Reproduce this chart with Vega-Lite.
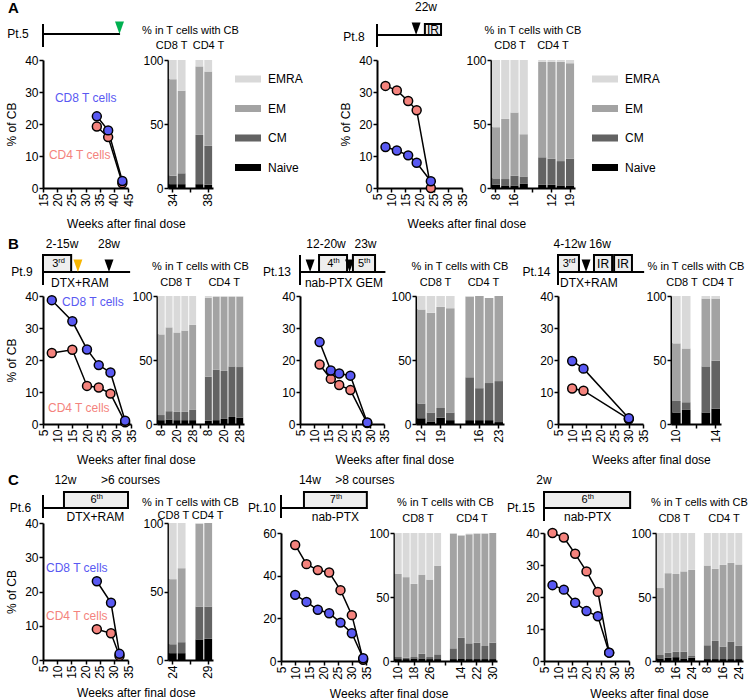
{
"$schema":"https://vega.github.io/schema/vega-lite/v6.json",
"background":"white",
"padding":{"left":5,"top":0,"right":0,"bottom":0},
"spacing":6,
"resolve":{"scale":{"color":"independent","fill":"independent"},"legend":{"color":"independent","fill":"independent"}},
"config":{
 "font":"Liberation Sans",
 "view":{"stroke":null},
 "axis":{"grid":false,"domainColor":"#000","domainWidth":2,"tickColor":"#000","tickWidth":1.5,"tickSize":4,"labelColor":"#000","labelFontSize":12,"labelPadding":1,"titleColor":"#000","titleFontSize":12,"titleFontWeight":"normal","titlePadding":6,"labelFlush":false,"labelOverlap":false},
 "axisX":{"labelAngle":-90},
 "title":{"fontSize":12,"fontWeight":"normal","color":"#000"},
 "text":{"color":"#000"}
},
"vconcat":[
{"hconcat":[
 {"concat":[
  {"width":85,"height":52,
   "encoding":{"x":{"field":"x","type":"quantitative","scale":{"domain":[15,45],"nice":false,"zero":false},"axis":null},"y":{"field":"y","type":"quantitative","scale":{"domain":[0,52],"nice":false,"reverse":true},"axis":null}},
   "layer":[
    {"data":{"values":[{"x":15,"y":24,"y2":47}]},"mark":{"type":"rule","strokeWidth":2,"color":"#000"},"encoding":{"y2":{"field":"y2"}}},
    {"data":{"values":[{"x":15,"x2":42.2,"y":34}]},"mark":{"type":"rule","strokeWidth":2,"color":"#000"},"encoding":{"x2":{"field":"x2"}}},
    {"data":{"values":[{"x":42,"y":27.7,"k":"c"}]},"mark":{"type":"point","shape":"M-1,-1.4L1,-1.4L0,1.4Z","size":80,"filled":true,"opacity":1},"encoding":{"fill":{"field":"k","type":"nominal","scale":{"domain":["a","b","c"],"range":["#000000","#f7b500","#00b050"]},"legend":null}}},
    {"data":{"values":[{"x":6.18,"y":34,"t":"Pt.5"}]},"mark":{"type":"text","fontSize":12,"baseline":"middle","align":"center"},"encoding":{"text":{"field":"t"}}},
    {"data":{"values":[{"x":2.65,"y":7.5,"t":"A"}]},"mark":{"type":"text","fontSize":15,"fontWeight":"bold","baseline":"middle","align":"left"},"encoding":{"text":{"field":"t"}}}
   ]},
  {"width":45,"height":52,"data":{"values":[{"x":2.5,"y":31,"t":"% in T cells with CB"},{"x":0.4,"y":46,"t":"CD8 T"},{"x":4.5,"y":46,"t":"CD4 T"}]},"mark":{"type":"text","fontSize":11,"baseline":"middle"},"encoding":{"x":{"field":"x","type":"quantitative","scale":{"domain":[0,5],"nice":false,"zero":false},"axis":null},"y":{"field":"y","type":"quantitative","scale":{"domain":[0,52],"nice":false,"reverse":true},"axis":null},"text":{"field":"t"}}},
  {"width":85,"height":128,
   "data":{"values":[{"w":34,"v":19.2,"s":"CD4"},{"w":38,"v":15.9,"s":"CD4"},{"w":43,"v":1.5,"s":"CD4"},{"w":34,"v":22.4,"s":"CD8"},{"w":38,"v":18,"s":"CD8"},{"w":43,"v":2.2,"s":"CD8"}]},
   "encoding":{"x":{"field":"w","type":"quantitative","scale":{"domain":[15,45],"nice":false,"zero":false},"axis":{"values":[15,20,25,30,35,40,45],"title":null}},"y":{"field":"v","type":"quantitative","scale":{"domain":[0,40],"nice":false},"axis":{"values":[0,10,20,30,40],"title":"% of CB"}}},
   "layer":[
    {"mark":{"type":"line","color":"#000","strokeWidth":1.5},"encoding":{"detail":{"field":"s"}}},
    {"mark":{"type":"circle","size":80,"stroke":"#000","strokeWidth":1.5,"opacity":1},"encoding":{"fill":{"field":"s","type":"nominal","scale":{"domain":["CD4","CD8"],"range":["#f4837d","#5959f2"]},"legend":null}}},
    {"data":{"values":[{"w":19.2,"v":28.1,"s":"CD8","t":"CD8 T cells"},{"w":17.1,"v":10.3,"s":"CD4","t":"CD4 T cells"}]},"mark":{"type":"text","align":"left","baseline":"middle","fontSize":12},"encoding":{"text":{"field":"t"},"fill":{"field":"s","type":"nominal","scale":{"domain":["CD4","CD8"],"range":["#f4837d","#5959f2"]},"legend":null}}}
   ]},
  {"width":45,"height":128,
   "data":{"values":[
    {"s":"c1","k":"Naive","v":3,"o":1},{"s":"c1","k":"CM","v":6.5,"o":2},{"s":"c1","k":"EM","v":75.5,"o":3},{"s":"c1","k":"EMRA","v":15,"o":4},
    {"s":"c2","k":"Naive","v":3,"o":1},{"s":"c2","k":"CM","v":8.5,"o":2},{"s":"c2","k":"EM","v":64.5,"o":3},{"s":"c2","k":"EMRA","v":24,"o":4},
    {"s":"d1","k":"Naive","v":3,"o":1},{"s":"d1","k":"CM","v":38.5,"o":2},{"s":"d1","k":"EM","v":53.5,"o":3},{"s":"d1","k":"EMRA","v":5,"o":4},
    {"s":"d2","k":"Naive","v":2.5,"o":1},{"s":"d2","k":"CM","v":30.5,"o":2},{"s":"d2","k":"EM","v":58,"o":3},{"s":"d2","k":"EMRA","v":9,"o":4}]},
   "mark":{"type":"bar"},
   "encoding":{
    "x":{"field":"s","type":"nominal","scale":{"domain":["c1","c2","g","d1","d2"],"paddingInner":0.12,"paddingOuter":0.1},"axis":{"values":["c1","g","d2"],"labelExpr":"datum.value=='c1'?'34':datum.value=='d2'?'38':''","title":null}},
    "y":{"field":"v","type":"quantitative","scale":{"domain":[0,100],"nice":false},"axis":{"values":[0,50,100],"title":null}},
    "color":{"field":"k","type":"nominal","scale":{"domain":["EMRA","EM","CM","Naive"],"range":["#d9d9d9","#a3a3a3","#636363","#000000"]},"legend":{"orient":"none","legendX":67,"legendY":6,"title":null,"symbolType":"M-1,-0.27L1,-0.27L1,0.27L-1,0.27Z","symbolSize":676,"symbolStrokeWidth":0,"symbolOpacity":1,"labelFontSize":12,"labelOffset":7,"rowPadding":10.5,"padding":0,"labelColor":"#000"}},
    "order":{"field":"o","type":"quantitative"}}}
 ],"columns":2,"bounds":"flush","align":"each","spacing":{"row":8,"column":40},
 "title":{"text":"Weeks after final dose","orient":"bottom","anchor":"middle","offset":13,"dx":-28,"fontSize":12,"fontWeight":"normal"},
 "resolve":{"scale":{"color":"independent","fill":"independent"},"legend":{"color":"independent","fill":"independent"}}},
 {"concat":[
  {"width":85,"height":52,
   "encoding":{"x":{"field":"x","type":"quantitative","scale":{"domain":[5,35],"nice":false,"zero":false},"axis":null},"y":{"field":"y","type":"quantitative","scale":{"domain":[0,52],"nice":false,"reverse":true},"axis":null}},
   "layer":[
    {"data":{"values":[{"x":5,"y":24,"y2":47}]},"mark":{"type":"rule","strokeWidth":2,"color":"#000"},"encoding":{"y2":{"field":"y2"}}},
    {"data":{"values":[{"x":5,"x2":27.6,"y":35}]},"mark":{"type":"rule","strokeWidth":2,"color":"#000"},"encoding":{"x2":{"field":"x2"}}},
    {"data":{"values":[{"x":21.9,"x2":27.6,"y":24,"y2":35}]},"mark":{"type":"rect","fill":"#eeeeee","stroke":"#000","strokeWidth":2},"encoding":{"x2":{"field":"x2"},"y2":{"field":"y2"}}},
    {"data":{"values":[{"x":18.8,"y":28.7,"k":"a"}]},"mark":{"type":"point","shape":"M-1,-1.4L1,-1.4L0,1.4Z","size":80,"filled":true,"opacity":1},"encoding":{"fill":{"field":"k","type":"nominal","scale":{"domain":["a","b","c"],"range":["#000000","#f7b500","#00b050"]},"legend":null}}},
    {"data":{"values":[{"x":-3.12,"y":37,"t":"Pt.8"},{"x":22.3,"y":7,"t":"22w"},{"x":24.75,"y":30,"t":"IR"}]},"mark":{"type":"text","fontSize":12,"baseline":"middle","align":"center"},"encoding":{"text":{"field":"t"}}}
   ]},
  {"width":84,"height":52,"data":{"values":[{"x":4.5,"y":31,"t":"% in T cells with CB"},{"x":2.04,"y":46,"t":"CD8 T"},{"x":6.64,"y":46,"t":"CD4 T"}]},"mark":{"type":"text","fontSize":11,"baseline":"middle"},"encoding":{"x":{"field":"x","type":"quantitative","scale":{"domain":[0,9],"nice":false,"zero":false},"axis":null},"y":{"field":"y","type":"quantitative","scale":{"domain":[0,52],"nice":false,"reverse":true},"axis":null},"text":{"field":"t"}}},
  {"width":85,"height":128,
   "data":{"values":[{"w":8,"v":31.9,"s":"CD4"},{"w":12,"v":30.5,"s":"CD4"},{"w":16,"v":27.2,"s":"CD4"},{"w":19,"v":24.3,"s":"CD4"},{"w":24,"v":0,"s":"CD4"},{"w":8,"v":12.8,"s":"CD8"},{"w":12,"v":11.7,"s":"CD8"},{"w":16,"v":10.2,"s":"CD8"},{"w":19,"v":7.9,"s":"CD8"},{"w":24,"v":2.1,"s":"CD8"}]},
   "encoding":{"x":{"field":"w","type":"quantitative","scale":{"domain":[5,35],"nice":false,"zero":false},"axis":{"values":[5,10,15,20,25,30,35],"title":null}},"y":{"field":"v","type":"quantitative","scale":{"domain":[0,40],"nice":false},"axis":{"values":[0,10,20,30,40],"title":"% of CB"}}},
   "layer":[
    {"mark":{"type":"line","color":"#000","strokeWidth":1.5},"encoding":{"detail":{"field":"s"}}},
    {"mark":{"type":"circle","size":80,"stroke":"#000","strokeWidth":1.5,"opacity":1},"encoding":{"fill":{"field":"s","type":"nominal","scale":{"domain":["CD4","CD8"],"range":["#f4837d","#5959f2"]},"legend":null}}}
   ]},
  {"width":84,"height":128,
   "data":{"values":[
    {"s":"c1","k":"Naive","v":2.5,"o":1},{"s":"c1","k":"CM","v":5,"o":2},{"s":"c1","k":"EM","v":40,"o":3},{"s":"c1","k":"EMRA","v":52.5,"o":4},
    {"s":"c2","k":"Naive","v":2,"o":1},{"s":"c2","k":"CM","v":5,"o":2},{"s":"c2","k":"EM","v":47,"o":3},{"s":"c2","k":"EMRA","v":46,"o":4},
    {"s":"c3","k":"Naive","v":2,"o":1},{"s":"c3","k":"CM","v":7.5,"o":2},{"s":"c3","k":"EM","v":49.5,"o":3},{"s":"c3","k":"EMRA","v":41,"o":4},
    {"s":"c4","k":"Naive","v":3.5,"o":1},{"s":"c4","k":"CM","v":5.5,"o":2},{"s":"c4","k":"EM","v":33,"o":3},{"s":"c4","k":"EMRA","v":58,"o":4},
    {"s":"d1","k":"Naive","v":2.5,"o":1},{"s":"d1","k":"CM","v":21.5,"o":2},{"s":"d1","k":"EM","v":74.5,"o":3},{"s":"d1","k":"EMRA","v":1.5,"o":4},
    {"s":"d2","k":"Naive","v":2.5,"o":1},{"s":"d2","k":"CM","v":20.5,"o":2},{"s":"d2","k":"EM","v":75.5,"o":3},{"s":"d2","k":"EMRA","v":1.5,"o":4},
    {"s":"d3","k":"Naive","v":2,"o":1},{"s":"d3","k":"CM","v":19,"o":2},{"s":"d3","k":"EM","v":77.5,"o":3},{"s":"d3","k":"EMRA","v":1.5,"o":4},
    {"s":"d4","k":"Naive","v":2,"o":1},{"s":"d4","k":"CM","v":21,"o":2},{"s":"d4","k":"EM","v":74.5,"o":3},{"s":"d4","k":"EMRA","v":2.5,"o":4}]},
   "mark":{"type":"bar"},
   "encoding":{
    "x":{"field":"s","type":"nominal","scale":{"domain":["c1","c2","c3","c4","g","d1","d2","d3","d4"],"paddingInner":0.12,"paddingOuter":0.1},"axis":{"values":["c1","c3","g","d2","d4"],"labelExpr":"datum.value=='c1'?'8':datum.value=='c3'?'16':datum.value=='d2'?'12':datum.value=='d4'?'19':''","title":null}},
    "y":{"field":"v","type":"quantitative","scale":{"domain":[0,100],"nice":false},"axis":{"values":[0,50,100],"title":null}},
    "color":{"field":"k","type":"nominal","scale":{"domain":["EMRA","EM","CM","Naive"],"range":["#d9d9d9","#a3a3a3","#636363","#000000"]},"legend":{"orient":"none","legendX":101,"legendY":6,"title":null,"symbolType":"M-1,-0.27L1,-0.27L1,0.27L-1,0.27Z","symbolSize":676,"symbolStrokeWidth":0,"symbolOpacity":1,"labelFontSize":12,"labelOffset":7,"rowPadding":10.5,"padding":0,"labelColor":"#000"}},
    "order":{"field":"o","type":"quantitative"}}}
 ],"columns":2,"bounds":"flush","align":"each","spacing":{"row":8,"column":29},
 "title":{"text":"Weeks after final dose","orient":"bottom","anchor":"middle","offset":13,"dx":-33,"fontSize":12,"fontWeight":"normal"},
 "resolve":{"scale":{"color":"independent","fill":"independent"},"legend":{"color":"independent","fill":"independent"}}}
],"spacing":36,"resolve":{"scale":{"color":"independent","fill":"independent"},"legend":{"color":"independent","fill":"independent"}}},

{"hconcat":[
 {"concat":[
  {"width":88,"height":53,
   "encoding":{"x":{"field":"x","type":"quantitative","scale":{"domain":[5,35],"nice":false,"zero":false},"axis":null},"y":{"field":"y","type":"quantitative","scale":{"domain":[0,53],"nice":false,"reverse":true},"axis":null}},
   "layer":[
    {"data":{"values":[{"x":5,"y":18,"y2":48}]},"mark":{"type":"rule","strokeWidth":2,"color":"#000"},"encoding":{"y2":{"field":"y2"}}},
    {"data":{"values":[{"x":5,"x2":34.7,"y":35}]},"mark":{"type":"rule","strokeWidth":2,"color":"#000"},"encoding":{"x2":{"field":"x2"}}},
    {"data":{"values":[{"x":5,"x2":14.6,"y":18,"y2":35}]},"mark":{"type":"rect","fill":"#eeeeee","stroke":"#000","strokeWidth":2},"encoding":{"x2":{"field":"x2"},"y2":{"field":"y2"}}},
    {"data":{"values":[{"x":16.9,"y":28.7,"k":"b"},{"x":27.5,"y":28.7,"k":"a"}]},"mark":{"type":"point","shape":"M-1,-1.4L1,-1.4L0,1.4Z","size":80,"filled":true,"opacity":1},"encoding":{"fill":{"field":"k","type":"nominal","scale":{"domain":["a","b","c"],"range":["#000000","#f7b500","#00b050"]},"legend":null}}},
    {"data":{"values":[{"x":-2.16,"y":35,"t":"Pt.9"},{"x":11.5,"y":7,"t":"2-15w"},{"x":27.5,"y":7,"t":"28w"},{"x":17.6,"y":46,"t":"DTX+RAM"}]},"mark":{"type":"text","fontSize":12,"baseline":"middle","align":"center"},"encoding":{"text":{"field":"t"}}},
    {"data":{"values":[{"x":10.2,"y":27,"n":"3","u":"rd"}]},"layer":[
      {"mark":{"type":"text","fontSize":11,"baseline":"middle","align":"right"},"encoding":{"text":{"field":"n"}}},
      {"mark":{"type":"text","fontSize":7.5,"baseline":"middle","align":"left","dy":-3},"encoding":{"text":{"field":"u"}}}]},
    {"data":{"values":[{"x":-6.93,"y":7,"t":"B"}]},"mark":{"type":"text","fontSize":15,"fontWeight":"bold","baseline":"middle","align":"left"},"encoding":{"text":{"field":"t"}}}
   ]},
  {"width":87,"height":53,"data":{"values":[{"x":5.5,"y":30,"t":"% in T cells with CB"},{"x":2.4,"y":46,"t":"CD8 T"},{"x":8.5,"y":46,"t":"CD4 T"}]},"mark":{"type":"text","fontSize":11,"baseline":"middle"},"encoding":{"x":{"field":"x","type":"quantitative","scale":{"domain":[0,11],"nice":false,"zero":false},"axis":null},"y":{"field":"y","type":"quantitative","scale":{"domain":[0,53],"nice":false,"reverse":true},"axis":null},"text":{"field":"t"}}},
  {"width":88,"height":128,
   "data":{"values":[{"w":8,"v":22.2,"s":"CD4"},{"w":15,"v":23.2,"s":"CD4"},{"w":20,"v":11.9,"s":"CD4"},{"w":24,"v":11.4,"s":"CD4"},{"w":28,"v":9.5,"s":"CD4"},{"w":33,"v":0.5,"s":"CD4"},{"w":8,"v":38.7,"s":"CD8"},{"w":15,"v":32.1,"s":"CD8"},{"w":20,"v":23.3,"s":"CD8"},{"w":24,"v":18.4,"s":"CD8"},{"w":28,"v":16.1,"s":"CD8"},{"w":33,"v":1.0,"s":"CD8"}]},
   "encoding":{"x":{"field":"w","type":"quantitative","scale":{"domain":[5,35],"nice":false,"zero":false},"axis":{"values":[5,10,15,20,25,30,35],"title":null}},"y":{"field":"v","type":"quantitative","scale":{"domain":[0,40],"nice":false},"axis":{"values":[0,10,20,30,40],"title":"% of CB"}}},
   "layer":[
    {"mark":{"type":"line","color":"#000","strokeWidth":1.5},"encoding":{"detail":{"field":"s"}}},
    {"mark":{"type":"circle","size":80,"stroke":"#000","strokeWidth":1.5,"opacity":1},"encoding":{"fill":{"field":"s","type":"nominal","scale":{"domain":["CD4","CD8"],"range":["#f4837d","#5959f2"]},"legend":null}}},
    {"data":{"values":[{"w":11.5,"v":38.1,"s":"CD8","t":"CD8 T cells"},{"w":6.7,"v":5.0,"s":"CD4","t":"CD4 T cells"}]},"mark":{"type":"text","align":"left","baseline":"middle","fontSize":12},"encoding":{"text":{"field":"t"},"fill":{"field":"s","type":"nominal","scale":{"domain":["CD4","CD8"],"range":["#f4837d","#5959f2"]},"legend":null}}}
   ]},
  {"width":87,"height":128,
   "data":{"values":[
    {"s":"c1","k":"Naive","v":3,"o":1},{"s":"c1","k":"CM","v":4,"o":2},{"s":"c1","k":"EM","v":63,"o":3},{"s":"c1","k":"EMRA","v":30,"o":4},
    {"s":"c2","k":"Naive","v":3.5,"o":1},{"s":"c2","k":"CM","v":6.5,"o":2},{"s":"c2","k":"EM","v":65.5,"o":3},{"s":"c2","k":"EMRA","v":24.5,"o":4},
    {"s":"c3","k":"Naive","v":3,"o":1},{"s":"c3","k":"CM","v":6.5,"o":2},{"s":"c3","k":"EM","v":62,"o":3},{"s":"c3","k":"EMRA","v":28.5,"o":4},
    {"s":"c4","k":"Naive","v":3,"o":1},{"s":"c4","k":"CM","v":6.5,"o":2},{"s":"c4","k":"EM","v":63.5,"o":3},{"s":"c4","k":"EMRA","v":27,"o":4},
    {"s":"c5","k":"Naive","v":3,"o":1},{"s":"c5","k":"CM","v":8,"o":2},{"s":"c5","k":"EM","v":66.5,"o":3},{"s":"c5","k":"EMRA","v":22.5,"o":4},
    {"s":"d1","k":"Naive","v":2.5,"o":1},{"s":"d1","k":"CM","v":34.5,"o":2},{"s":"d1","k":"EM","v":61.5,"o":3},{"s":"d1","k":"EMRA","v":1.5,"o":4},
    {"s":"d2","k":"Naive","v":3,"o":1},{"s":"d2","k":"CM","v":39.5,"o":2},{"s":"d2","k":"EM","v":57,"o":3},{"s":"d2","k":"EMRA","v":0.5,"o":4},
    {"s":"d3","k":"Naive","v":4,"o":1},{"s":"d3","k":"CM","v":37.5,"o":2},{"s":"d3","k":"EM","v":58,"o":3},{"s":"d3","k":"EMRA","v":0.5,"o":4},
    {"s":"d4","k":"Naive","v":5.5,"o":1},{"s":"d4","k":"CM","v":39.5,"o":2},{"s":"d4","k":"EM","v":54.5,"o":3},{"s":"d4","k":"EMRA","v":0.5,"o":4},
    {"s":"d5","k":"Naive","v":5,"o":1},{"s":"d5","k":"CM","v":39.5,"o":2},{"s":"d5","k":"EM","v":55,"o":3},{"s":"d5","k":"EMRA","v":0.5,"o":4}]},
   "mark":{"type":"bar"},
   "encoding":{
    "x":{"field":"s","type":"nominal","scale":{"domain":["c1","c2","c3","c4","c5","g","d1","d2","d3","d4","d5"],"paddingInner":0.12,"paddingOuter":0.1},"axis":{"values":["c1","c3","c5","g","d1","d3","d5"],"labelExpr":"(datum.value=='c1'||datum.value=='d1')?'8':(datum.value=='c3'||datum.value=='d3')?'20':(datum.value=='c5'||datum.value=='d5')?'28':''","title":null}},
    "y":{"field":"v","type":"quantitative","scale":{"domain":[0,100],"nice":false},"axis":{"values":[0,50,100],"title":null}},
    "color":{"field":"k","type":"nominal","scale":{"domain":["EMRA","EM","CM","Naive"],"range":["#d9d9d9","#a3a3a3","#636363","#000000"]},"legend":null},
    "order":{"field":"o","type":"quantitative"}}}
 ],"columns":2,"bounds":"flush","align":"each","spacing":{"row":6,"column":26},
 "title":{"text":"Weeks after final dose","orient":"bottom","anchor":"middle","offset":13,"dx":9,"fontSize":12,"fontWeight":"normal"},
 "resolve":{"scale":{"color":"independent","fill":"independent"},"legend":{"color":"independent","fill":"independent"}}},
 {"concat":[
  {"width":84,"height":53,
   "encoding":{"x":{"field":"x","type":"quantitative","scale":{"domain":[5,35],"nice":false,"zero":false},"axis":null},"y":{"field":"y","type":"quantitative","scale":{"domain":[0,53],"nice":false,"reverse":true},"axis":null}},
   "layer":[
    {"data":{"values":[{"x":5,"y":18,"y2":48}]},"mark":{"type":"rule","strokeWidth":2,"color":"#000"},"encoding":{"y2":{"field":"y2"}}},
    {"data":{"values":[{"x":5,"x2":35.5,"y":35}]},"mark":{"type":"rule","strokeWidth":2,"color":"#000"},"encoding":{"x2":{"field":"x2"}}},
    {"data":{"values":[{"x":11.8,"x2":21.8,"y":18,"y2":35},{"x":23.9,"x2":31.8,"y":18,"y2":35}]},"mark":{"type":"rect","fill":"#eeeeee","stroke":"#000","strokeWidth":2},"encoding":{"x2":{"field":"x2"},"y2":{"field":"y2"}}},
    {"data":{"values":[{"x":8.6,"y":28.7,"k":"a"},{"x":22.7,"y":28.7,"k":"a"}]},"mark":{"type":"point","shape":"M-1,-1.4L1,-1.4L0,1.4Z","size":80,"filled":true,"opacity":1},"encoding":{"fill":{"field":"k","type":"nominal","scale":{"domain":["a","b","c"],"range":["#000000","#f7b500","#00b050"]},"legend":null}}},
    {"data":{"values":[{"x":-3.21,"y":35,"t":"Pt.13"},{"x":14.3,"y":7,"t":"12-20w"},{"x":28.4,"y":7,"t":"23w"},{"x":15.2,"y":46,"t":"nab-PTX"},{"x":29.8,"y":46,"t":"GEM"}]},"mark":{"type":"text","fontSize":12,"baseline":"middle","align":"center"},"encoding":{"text":{"field":"t"}}},
    {"data":{"values":[{"x":16.9,"y":27,"n":"4","u":"th"},{"x":27.9,"y":27,"n":"5","u":"th"}]},"layer":[
      {"mark":{"type":"text","fontSize":11,"baseline":"middle","align":"right"},"encoding":{"text":{"field":"n"}}},
      {"mark":{"type":"text","fontSize":7.5,"baseline":"middle","align":"left","dy":-3},"encoding":{"text":{"field":"u"}}}]}
   ]},
  {"width":88,"height":53,"data":{"values":[{"x":4.5,"y":30,"t":"% in T cells with CB"},{"x":2.0,"y":46,"t":"CD8 T"},{"x":6.9,"y":46,"t":"CD4 T"}]},"mark":{"type":"text","fontSize":11,"baseline":"middle"},"encoding":{"x":{"field":"x","type":"quantitative","scale":{"domain":[0,9],"nice":false,"zero":false},"axis":null},"y":{"field":"y","type":"quantitative","scale":{"domain":[0,53],"nice":false,"reverse":true},"axis":null},"text":{"field":"t"}}},
  {"width":84,"height":128,
   "data":{"values":[{"w":12,"v":18.6,"s":"CD4"},{"w":16,"v":14.1,"s":"CD4"},{"w":19,"v":12.2,"s":"CD4"},{"w":23,"v":10.6,"s":"CD4"},{"w":29,"v":0.3,"s":"CD4"},{"w":12,"v":25.6,"s":"CD8"},{"w":16,"v":16.7,"s":"CD8"},{"w":19,"v":15.8,"s":"CD8"},{"w":23,"v":15.1,"s":"CD8"},{"w":29,"v":0.5,"s":"CD8"}]},
   "encoding":{"x":{"field":"w","type":"quantitative","scale":{"domain":[5,35],"nice":false,"zero":false},"axis":{"values":[5,10,15,20,25,30,35],"title":null}},"y":{"field":"v","type":"quantitative","scale":{"domain":[0,40],"nice":false},"axis":{"values":[0,10,20,30,40],"title":null}}},
   "layer":[
    {"mark":{"type":"line","color":"#000","strokeWidth":1.5},"encoding":{"detail":{"field":"s"}}},
    {"mark":{"type":"circle","size":80,"stroke":"#000","strokeWidth":1.5,"opacity":1},"encoding":{"fill":{"field":"s","type":"nominal","scale":{"domain":["CD4","CD8"],"range":["#f4837d","#5959f2"]},"legend":null}}}
   ]},
  {"width":88,"height":128,
   "data":{"values":[
    {"s":"c1","k":"Naive","v":4.5,"o":1},{"s":"c1","k":"CM","v":11.5,"o":2},{"s":"c1","k":"EM","v":73.5,"o":3},{"s":"c1","k":"EMRA","v":10.5,"o":4},
    {"s":"c2","k":"Naive","v":2,"o":1},{"s":"c2","k":"CM","v":7,"o":2},{"s":"c2","k":"EM","v":78,"o":3},{"s":"c2","k":"EMRA","v":13,"o":4},
    {"s":"c3","k":"Naive","v":5,"o":1},{"s":"c3","k":"CM","v":7.5,"o":2},{"s":"c3","k":"EM","v":79,"o":3},{"s":"c3","k":"EMRA","v":8.5,"o":4},
    {"s":"c4","k":"Naive","v":3,"o":1},{"s":"c4","k":"CM","v":6,"o":2},{"s":"c4","k":"EM","v":81.5,"o":3},{"s":"c4","k":"EMRA","v":9.5,"o":4},
    {"s":"d1","k":"Naive","v":3,"o":1},{"s":"d1","k":"CM","v":33.5,"o":2},{"s":"d1","k":"EM","v":63,"o":3},{"s":"d1","k":"EMRA","v":0.5,"o":4},
    {"s":"d2","k":"Naive","v":3,"o":1},{"s":"d2","k":"CM","v":25,"o":2},{"s":"d2","k":"EM","v":72,"o":3},{"s":"d2","k":"EMRA","v":0,"o":4},
    {"s":"d3","k":"Naive","v":3,"o":1},{"s":"d3","k":"CM","v":29,"o":2},{"s":"d3","k":"EM","v":66.5,"o":3},{"s":"d3","k":"EMRA","v":0,"o":4},
    {"s":"d4","k":"Naive","v":1.5,"o":1},{"s":"d4","k":"CM","v":32,"o":2},{"s":"d4","k":"EM","v":66.5,"o":3},{"s":"d4","k":"EMRA","v":0,"o":4}]},
   "mark":{"type":"bar"},
   "encoding":{
    "x":{"field":"s","type":"nominal","scale":{"domain":["c1","c2","c3","c4","g","d1","d2","d3","d4"],"paddingInner":0.12,"paddingOuter":0.1},"axis":{"values":["c1","c3","g","d2","d4"],"labelExpr":"datum.value=='c1'?'12':datum.value=='c3'?'19':datum.value=='d2'?'16':datum.value=='d4'?'23':''","title":null}},
    "y":{"field":"v","type":"quantitative","scale":{"domain":[0,100],"nice":false},"axis":{"values":[0,50,100],"title":null}},
    "color":{"field":"k","type":"nominal","scale":{"domain":["EMRA","EM","CM","Naive"],"range":["#d9d9d9","#a3a3a3","#636363","#000000"]},"legend":null},
    "order":{"field":"o","type":"quantitative"}}}
 ],"columns":2,"bounds":"flush","align":"each","spacing":{"row":6,"column":32},
 "title":{"text":"Weeks after final dose","orient":"bottom","anchor":"middle","offset":13,"dx":9,"fontSize":12,"fontWeight":"normal"},
 "resolve":{"scale":{"color":"independent","fill":"independent"},"legend":{"color":"independent","fill":"independent"}}},
 {"concat":[
  {"width":85,"height":53,
   "encoding":{"x":{"field":"x","type":"quantitative","scale":{"domain":[5,35],"nice":false,"zero":false},"axis":null},"y":{"field":"y","type":"quantitative","scale":{"domain":[0,53],"nice":false,"reverse":true},"axis":null}},
   "layer":[
    {"data":{"values":[{"x":5,"y":18,"y2":48}]},"mark":{"type":"rule","strokeWidth":2,"color":"#000"},"encoding":{"y2":{"field":"y2"}}},
    {"data":{"values":[{"x":5,"x2":35.4,"y":35}]},"mark":{"type":"rule","strokeWidth":2,"color":"#000"},"encoding":{"x2":{"field":"x2"}}},
    {"data":{"values":[{"x":5,"x2":12.4,"y":18,"y2":35},{"x":17.7,"x2":24.1,"y":18,"y2":35},{"x":24.8,"x2":31.1,"y":18,"y2":35}]},"mark":{"type":"rect","fill":"#eeeeee","stroke":"#000","strokeWidth":2},"encoding":{"x2":{"field":"x2"},"y2":{"field":"y2"}}},
    {"data":{"values":[{"x":14.9,"y":28.7,"k":"a"}]},"mark":{"type":"point","shape":"M-1,-1.4L1,-1.4L0,1.4Z","size":80,"filled":true,"opacity":1},"encoding":{"fill":{"field":"k","type":"nominal","scale":{"domain":["a","b","c"],"range":["#000000","#f7b500","#00b050"]},"legend":null}}},
    {"data":{"values":[{"x":-2.59,"y":35,"t":"Pt.14"},{"x":9.2,"y":7,"t":"4-12w"},{"x":19.8,"y":7,"t":"16w"},{"x":15.9,"y":46,"t":"DTX+RAM"},{"x":20.9,"y":27,"t":"IR"},{"x":27.95,"y":27,"t":"IR"}]},"mark":{"type":"text","fontSize":12,"baseline":"middle","align":"center"},"encoding":{"text":{"field":"t"}}},
    {"data":{"values":[{"x":8.8,"y":27,"n":"3","u":"rd"}]},"layer":[
      {"mark":{"type":"text","fontSize":11,"baseline":"middle","align":"right"},"encoding":{"text":{"field":"n"}}},
      {"mark":{"type":"text","fontSize":7.5,"baseline":"middle","align":"left","dy":-3},"encoding":{"text":{"field":"u"}}}]}
   ]},
  {"width":50,"height":53,"data":{"values":[{"x":2.5,"y":30,"t":"% in T cells with CB"},{"x":1.1,"y":46,"t":"CD8 T"},{"x":4.7,"y":46,"t":"CD4 T"}]},"mark":{"type":"text","fontSize":11,"baseline":"middle"},"encoding":{"x":{"field":"x","type":"quantitative","scale":{"domain":[0,5],"nice":false,"zero":false},"axis":null},"y":{"field":"y","type":"quantitative","scale":{"domain":[0,53],"nice":false,"reverse":true},"axis":null},"text":{"field":"t"}}},
  {"width":85,"height":128,
   "data":{"values":[{"w":10,"v":11.1,"s":"CD4"},{"w":14,"v":10.4,"s":"CD4"},{"w":30,"v":1.5,"s":"CD4"},{"w":10,"v":19.7,"s":"CD8"},{"w":14,"v":17.3,"s":"CD8"},{"w":30,"v":1.8,"s":"CD8"}]},
   "encoding":{"x":{"field":"w","type":"quantitative","scale":{"domain":[5,35],"nice":false,"zero":false},"axis":{"values":[5,10,15,20,25,30,35],"title":null}},"y":{"field":"v","type":"quantitative","scale":{"domain":[0,40],"nice":false},"axis":{"values":[0,10,20,30,40],"title":null}}},
   "layer":[
    {"mark":{"type":"line","color":"#000","strokeWidth":1.5},"encoding":{"detail":{"field":"s"}}},
    {"mark":{"type":"circle","size":80,"stroke":"#000","strokeWidth":1.5,"opacity":1},"encoding":{"fill":{"field":"s","type":"nominal","scale":{"domain":["CD4","CD8"],"range":["#f4837d","#5959f2"]},"legend":null}}}
   ]},
  {"width":50,"height":128,
   "data":{"values":[
    {"s":"c1","k":"Naive","v":9,"o":1},{"s":"c1","k":"CM","v":9,"o":2},{"s":"c1","k":"EM","v":45,"o":3},{"s":"c1","k":"EMRA","v":37,"o":4},
    {"s":"c2","k":"Naive","v":11,"o":1},{"s":"c2","k":"CM","v":6,"o":2},{"s":"c2","k":"EM","v":42,"o":3},{"s":"c2","k":"EMRA","v":41,"o":4},
    {"s":"d1","k":"Naive","v":9,"o":1},{"s":"d1","k":"CM","v":36,"o":2},{"s":"d1","k":"EM","v":53,"o":3},{"s":"d1","k":"EMRA","v":2,"o":4},
    {"s":"d2","k":"Naive","v":12,"o":1},{"s":"d2","k":"CM","v":37.5,"o":2},{"s":"d2","k":"EM","v":48.5,"o":3},{"s":"d2","k":"EMRA","v":2,"o":4}]},
   "mark":{"type":"bar"},
   "encoding":{
    "x":{"field":"s","type":"nominal","scale":{"domain":["c1","c2","g","d1","d2"],"paddingInner":0.12,"paddingOuter":0.1},"axis":{"values":["c1","g","d2"],"labelExpr":"datum.value=='c1'?'10':datum.value=='d2'?'14':''","title":null}},
    "y":{"field":"v","type":"quantitative","scale":{"domain":[0,100],"nice":false},"axis":{"values":[0,50,100],"title":null}},
    "color":{"field":"k","type":"nominal","scale":{"domain":["EMRA","EM","CM","Naive"],"range":["#d9d9d9","#a3a3a3","#636363","#000000"]},"legend":null},
    "order":{"field":"o","type":"quantitative"}}}
 ],"columns":2,"bounds":"flush","align":"each","spacing":{"row":6,"column":28},
 "title":{"text":"Weeks after final dose","orient":"bottom","anchor":"middle","offset":13,"dx":18,"fontSize":12,"fontWeight":"normal"},
 "resolve":{"scale":{"color":"independent","fill":"independent"},"legend":{"color":"independent","fill":"independent"}}}
],"spacing":13,"resolve":{"scale":{"color":"independent","fill":"independent"},"legend":{"color":"independent","fill":"independent"}}},

{"hconcat":[
 {"concat":[
  {"width":85,"height":50,
   "encoding":{"x":{"field":"x","type":"quantitative","scale":{"domain":[5,35],"nice":false,"zero":false},"axis":null},"y":{"field":"y","type":"quantitative","scale":{"domain":[0,50],"nice":false,"reverse":true},"axis":null}},
   "layer":[
    {"data":{"values":[{"x":5,"y":22,"y2":45}]},"mark":{"type":"rule","strokeWidth":2,"color":"#000"},"encoding":{"y2":{"field":"y2"}}},
    {"data":{"values":[{"x":5,"x2":35,"y":35}]},"mark":{"type":"rule","strokeWidth":2,"color":"#000"},"encoding":{"x2":{"field":"x2"}}},
    {"data":{"values":[{"x":12.4,"x2":35,"y":19,"y2":35}]},"mark":{"type":"rect","fill":"#eeeeee","stroke":"#000","strokeWidth":2},"encoding":{"x2":{"field":"x2"},"y2":{"field":"y2"}}},
    {"data":{"values":[{"x":-2.94,"y":35,"t":"Pt.6"},{"x":12.9,"y":7,"t":"12w"},{"x":35.9,"y":7,"t":">6 courses"},{"x":23.5,"y":44,"t":"DTX+RAM"}]},"mark":{"type":"text","fontSize":12,"baseline":"middle","align":"center"},"encoding":{"text":{"field":"t"}}},
    {"data":{"values":[{"x":23.9,"y":27,"n":"6","u":"th"}]},"layer":[
      {"mark":{"type":"text","fontSize":11,"baseline":"middle","align":"right"},"encoding":{"text":{"field":"n"}}},
      {"mark":{"type":"text","fontSize":7.5,"baseline":"middle","align":"left","dy":-3},"encoding":{"text":{"field":"u"}}}]},
    {"data":{"values":[{"x":-7.35,"y":7,"t":"C"}]},"mark":{"type":"text","fontSize":15,"fontWeight":"bold","baseline":"middle","align":"left"},"encoding":{"text":{"field":"t"}}}
   ]},
  {"width":45,"height":50,"data":{"values":[{"x":2.5,"y":30,"t":"% in T cells with CB"},{"x":0.6,"y":43,"t":"CD8 T"},{"x":4.4,"y":43,"t":"CD4 T"}]},"mark":{"type":"text","fontSize":11,"baseline":"middle"},"encoding":{"x":{"field":"x","type":"quantitative","scale":{"domain":[0,5],"nice":false,"zero":false},"axis":null},"y":{"field":"y","type":"quantitative","scale":{"domain":[0,50],"nice":false,"reverse":true},"axis":null},"text":{"field":"t"}}},
  {"width":85,"height":137,
   "data":{"values":[{"w":24,"v":9,"s":"CD4"},{"w":29,"v":7.8,"s":"CD4"},{"w":32,"v":1.2,"s":"CD4"},{"w":24,"v":23,"s":"CD8"},{"w":29,"v":16.7,"s":"CD8"},{"w":32,"v":1.8,"s":"CD8"}]},
   "encoding":{"x":{"field":"w","type":"quantitative","scale":{"domain":[5,35],"nice":false,"zero":false},"axis":{"values":[5,10,15,20,25,30,35],"title":null}},"y":{"field":"v","type":"quantitative","scale":{"domain":[0,40],"nice":false},"axis":{"values":[0,10,20,30,40],"title":"% of CB"}}},
   "layer":[
    {"mark":{"type":"line","color":"#000","strokeWidth":1.5},"encoding":{"detail":{"field":"s"}}},
    {"mark":{"type":"circle","size":80,"stroke":"#000","strokeWidth":1.5,"opacity":1},"encoding":{"fill":{"field":"s","type":"nominal","scale":{"domain":["CD4","CD8"],"range":["#f4837d","#5959f2"]},"legend":null}}},
    {"data":{"values":[{"w":6.06,"v":26.9,"s":"CD8","t":"CD8 T cells"},{"w":6.06,"v":12.8,"s":"CD4","t":"CD4 T cells"}]},"mark":{"type":"text","align":"left","baseline":"middle","fontSize":12},"encoding":{"text":{"field":"t"},"fill":{"field":"s","type":"nominal","scale":{"domain":["CD4","CD8"],"range":["#f4837d","#5959f2"]},"legend":null}}}
   ]},
  {"width":45,"height":137,
   "data":{"values":[
    {"s":"c1","k":"Naive","v":5,"o":1},{"s":"c1","k":"CM","v":6.5,"o":2},{"s":"c1","k":"EM","v":47.5,"o":3},{"s":"c1","k":"EMRA","v":41,"o":4},
    {"s":"c2","k":"Naive","v":5,"o":1},{"s":"c2","k":"CM","v":8,"o":2},{"s":"c2","k":"EM","v":54,"o":3},{"s":"c2","k":"EMRA","v":33,"o":4},
    {"s":"d1","k":"Naive","v":15,"o":1},{"s":"d1","k":"CM","v":24,"o":2},{"s":"d1","k":"EM","v":60.5,"o":3},{"s":"d1","k":"EMRA","v":0.5,"o":4},
    {"s":"d2","k":"Naive","v":15.5,"o":1},{"s":"d2","k":"CM","v":23.5,"o":2},{"s":"d2","k":"EM","v":61,"o":3},{"s":"d2","k":"EMRA","v":0,"o":4}]},
   "mark":{"type":"bar"},
   "encoding":{
    "x":{"field":"s","type":"nominal","scale":{"domain":["c1","c2","g","d1","d2"],"paddingInner":0.12,"paddingOuter":0.1},"axis":{"values":["c1","g","d2"],"labelExpr":"datum.value=='c1'?'24':datum.value=='d2'?'29':''","title":null}},
    "y":{"field":"v","type":"quantitative","scale":{"domain":[0,100],"nice":false},"axis":{"values":[0,50,100],"title":null}},
    "color":{"field":"k","type":"nominal","scale":{"domain":["EMRA","EM","CM","Naive"],"range":["#d9d9d9","#a3a3a3","#636363","#000000"]},"legend":null},
    "order":{"field":"o","type":"quantitative"}}}
 ],"columns":2,"bounds":"flush","align":"each","spacing":{"row":0,"column":40},
 "title":{"text":"Weeks after final dose","orient":"bottom","anchor":"middle","offset":10,"dx":14,"fontSize":12,"fontWeight":"normal"},
 "resolve":{"scale":{"color":"independent","fill":"independent"},"legend":{"color":"independent","fill":"independent"}}},
 {"concat":[
  {"width":85,"height":53,
   "encoding":{"x":{"field":"x","type":"quantitative","scale":{"domain":[5,35],"nice":false,"zero":false},"axis":null},"y":{"field":"y","type":"quantitative","scale":{"domain":[0,53],"nice":false,"reverse":true},"axis":null}},
   "layer":[
    {"data":{"values":[{"x":5,"y":22,"y2":45}]},"mark":{"type":"rule","strokeWidth":2,"color":"#000"},"encoding":{"y2":{"field":"y2"}}},
    {"data":{"values":[{"x":5,"x2":13.1,"y":35}]},"mark":{"type":"rule","strokeWidth":2,"color":"#000"},"encoding":{"x2":{"field":"x2"}}},
    {"data":{"values":[{"x":13.1,"x2":35.3,"y":19,"y2":35}]},"mark":{"type":"rect","fill":"#eeeeee","stroke":"#000","strokeWidth":2},"encoding":{"x2":{"field":"x2"},"y2":{"field":"y2"}}},
    {"data":{"values":[{"x":-1.71,"y":35,"t":"Pt.10"},{"x":15.2,"y":7,"t":"14w"},{"x":34.6,"y":7,"t":">8 courses"},{"x":24.2,"y":44,"t":"nab-PTX"}]},"mark":{"type":"text","fontSize":12,"baseline":"middle","align":"center"},"encoding":{"text":{"field":"t"}}},
    {"data":{"values":[{"x":24.4,"y":27,"n":"7","u":"th"}]},"layer":[
      {"mark":{"type":"text","fontSize":11,"baseline":"middle","align":"right"},"encoding":{"text":{"field":"n"}}},
      {"mark":{"type":"text","fontSize":7.5,"baseline":"middle","align":"left","dy":-3},"encoding":{"text":{"field":"u"}}}]}
   ]},
  {"width":103,"height":53,"data":{"values":[{"x":6.5,"y":30,"t":"% in T cells with CB"},{"x":3.03,"y":46,"t":"CD8 T"},{"x":9.85,"y":46,"t":"CD4 T"}]},"mark":{"type":"text","fontSize":11,"baseline":"middle"},"encoding":{"x":{"field":"x","type":"quantitative","scale":{"domain":[0,13],"nice":false,"zero":false},"axis":null},"y":{"field":"y","type":"quantitative","scale":{"domain":[0,53],"nice":false,"reverse":true},"axis":null},"text":{"field":"t"}}},
  {"width":85,"height":128,
   "data":{"values":[{"w":10,"v":54.4,"s":"CD4"},{"w":14,"v":45.4,"s":"CD4"},{"w":18,"v":42.6,"s":"CD4"},{"w":22,"v":41.5,"s":"CD4"},{"w":26,"v":33.2,"s":"CD4"},{"w":30,"v":21.5,"s":"CD4"},{"w":34,"v":0.6,"s":"CD4"},{"w":10,"v":31,"s":"CD8"},{"w":14,"v":27.7,"s":"CD8"},{"w":18,"v":24,"s":"CD8"},{"w":22,"v":22.4,"s":"CD8"},{"w":26,"v":18,"s":"CD8"},{"w":30,"v":13,"s":"CD8"},{"w":34,"v":1.3,"s":"CD8"}]},
   "encoding":{"x":{"field":"w","type":"quantitative","scale":{"domain":[5,35],"nice":false,"zero":false},"axis":{"values":[5,10,15,20,25,30,35],"title":null}},"y":{"field":"v","type":"quantitative","scale":{"domain":[0,60],"nice":false},"axis":{"values":[0,20,40,60],"title":null}}},
   "layer":[
    {"mark":{"type":"line","color":"#000","strokeWidth":1.5},"encoding":{"detail":{"field":"s"}}},
    {"mark":{"type":"circle","size":80,"stroke":"#000","strokeWidth":1.5,"opacity":1},"encoding":{"fill":{"field":"s","type":"nominal","scale":{"domain":["CD4","CD8"],"range":["#f4837d","#5959f2"]},"legend":null}}}
   ]},
  {"width":103,"height":128,
   "data":{"values":[
    {"s":"c1","k":"Naive","v":1.5,"o":1},{"s":"c1","k":"CM","v":1.6,"o":2},{"s":"c1","k":"EM","v":64.9,"o":3},{"s":"c1","k":"EMRA","v":32,"o":4},
    {"s":"c2","k":"Naive","v":1.5,"o":1},{"s":"c2","k":"CM","v":1.1,"o":2},{"s":"c2","k":"EM","v":62.9,"o":3},{"s":"c2","k":"EMRA","v":34.5,"o":4},
    {"s":"c3","k":"Naive","v":2,"o":1},{"s":"c3","k":"CM","v":1.1,"o":2},{"s":"c3","k":"EM","v":57.2,"o":3},{"s":"c3","k":"EMRA","v":39.7,"o":4},
    {"s":"c4","k":"Naive","v":2,"o":1},{"s":"c4","k":"CM","v":3.7,"o":2},{"s":"c4","k":"EM","v":61.8,"o":3},{"s":"c4","k":"EMRA","v":32.5,"o":4},
    {"s":"c5","k":"Naive","v":1.5,"o":1},{"s":"c5","k":"CM","v":1.6,"o":2},{"s":"c5","k":"EM","v":60.5,"o":3},{"s":"c5","k":"EMRA","v":36.4,"o":4},
    {"s":"c6","k":"Naive","v":1.5,"o":1},{"s":"c6","k":"CM","v":3.7,"o":2},{"s":"c6","k":"EM","v":69.3,"o":3},{"s":"c6","k":"EMRA","v":25.5,"o":4},
    {"s":"d1","k":"Naive","v":1.5,"o":1},{"s":"d1","k":"CM","v":8.4,"o":2},{"s":"d1","k":"EM","v":89.6,"o":3},{"s":"d1","k":"EMRA","v":0.5,"o":4},
    {"s":"d2","k":"Naive","v":1.5,"o":1},{"s":"d2","k":"CM","v":16.7,"o":2},{"s":"d2","k":"EM","v":79.8,"o":3},{"s":"d2","k":"EMRA","v":0.5,"o":4},
    {"s":"d3","k":"Naive","v":1.5,"o":1},{"s":"d3","k":"CM","v":12.3,"o":2},{"s":"d3","k":"EM","v":85.2,"o":3},{"s":"d3","k":"EMRA","v":0.5,"o":4},
    {"s":"d4","k":"Naive","v":1.5,"o":1},{"s":"d4","k":"CM","v":12.8,"o":2},{"s":"d4","k":"EM","v":85.2,"o":3},{"s":"d4","k":"EMRA","v":0.5,"o":4},
    {"s":"d5","k":"Naive","v":1.5,"o":1},{"s":"d5","k":"CM","v":10.2,"o":2},{"s":"d5","k":"EM","v":87.8,"o":3},{"s":"d5","k":"EMRA","v":0.5,"o":4},
    {"s":"d6","k":"Naive","v":1.5,"o":1},{"s":"d6","k":"CM","v":12.8,"o":2},{"s":"d6","k":"EM","v":85.7,"o":3},{"s":"d6","k":"EMRA","v":0,"o":4}]},
   "mark":{"type":"bar"},
   "encoding":{
    "x":{"field":"s","type":"nominal","scale":{"domain":["c1","c2","c3","c4","c5","c6","g","d1","d2","d3","d4","d5","d6"],"paddingInner":0.12,"paddingOuter":0.1},"axis":{"values":["c1","c3","c5","g","d2","d4","d6"],"labelExpr":"datum.value=='c1'?'10':datum.value=='c3'?'18':datum.value=='c5'?'26':datum.value=='d2'?'14':datum.value=='d4'?'22':datum.value=='d6'?'30':''","title":null}},
    "y":{"field":"v","type":"quantitative","scale":{"domain":[0,100],"nice":false},"axis":{"values":[0,50,100],"title":null}},
    "color":{"field":"k","type":"nominal","scale":{"domain":["EMRA","EM","CM","Naive"],"range":["#d9d9d9","#a3a3a3","#636363","#000000"]},"legend":null},
    "order":{"field":"o","type":"quantitative"}}}
 ],"columns":2,"bounds":"flush","align":"each","spacing":{"row":7,"column":28},
 "title":{"text":"Weeks after final dose","orient":"bottom","anchor":"middle","offset":10,"dx":16,"fontSize":12,"fontWeight":"normal"},
 "resolve":{"scale":{"color":"independent","fill":"independent"},"legend":{"color":"independent","fill":"independent"}}},
 {"concat":[
  {"width":85,"height":53,
   "encoding":{"x":{"field":"x","type":"quantitative","scale":{"domain":[5,35],"nice":false,"zero":false},"axis":null},"y":{"field":"y","type":"quantitative","scale":{"domain":[0,53],"nice":false,"reverse":true},"axis":null}},
   "layer":[
    {"data":{"values":[{"x":5,"y":19,"y2":48}]},"mark":{"type":"rule","strokeWidth":2,"color":"#000"},"encoding":{"y2":{"field":"y2"}}},
    {"data":{"values":[{"x":5,"x2":35.4,"y":19,"y2":35}]},"mark":{"type":"rect","fill":"#eeeeee","stroke":"#000","strokeWidth":2},"encoding":{"x2":{"field":"x2"},"y2":{"field":"y2"}}},
    {"data":{"values":[{"x":-3.12,"y":35,"t":"Pt.15"},{"x":5,"y":7,"t":"2w"},{"x":20.4,"y":44,"t":"nab-PTX"}]},"mark":{"type":"text","fontSize":12,"baseline":"middle","align":"center"},"encoding":{"text":{"field":"t"}}},
    {"data":{"values":[{"x":20.4,"y":27,"n":"6","u":"th"}]},"layer":[
      {"mark":{"type":"text","fontSize":11,"baseline":"middle","align":"right"},"encoding":{"text":{"field":"n"}}},
      {"mark":{"type":"text","fontSize":7.5,"baseline":"middle","align":"left","dy":-3},"encoding":{"text":{"field":"u"}}}]}
   ]},
  {"width":87,"height":53,"data":{"values":[{"x":5.5,"y":30,"t":"% in T cells with CB"},{"x":2.3,"y":46,"t":"CD8 T"},{"x":8.6,"y":46,"t":"CD4 T"}]},"mark":{"type":"text","fontSize":11,"baseline":"middle"},"encoding":{"x":{"field":"x","type":"quantitative","scale":{"domain":[0,11],"nice":false,"zero":false},"axis":null},"y":{"field":"y","type":"quantitative","scale":{"domain":[0,53],"nice":false,"reverse":true},"axis":null},"text":{"field":"t"}}},
  {"width":85,"height":128,
   "data":{"values":[{"w":8,"v":40,"s":"CD4"},{"w":12,"v":38.6,"s":"CD4"},{"w":16,"v":33.5,"s":"CD4"},{"w":20,"v":28,"s":"CD4"},{"w":24,"v":21.6,"s":"CD4"},{"w":28,"v":2.6,"s":"CD4"},{"w":8,"v":23.7,"s":"CD8"},{"w":12,"v":22.3,"s":"CD8"},{"w":16,"v":18.2,"s":"CD8"},{"w":20,"v":15.6,"s":"CD8"},{"w":24,"v":14,"s":"CD8"},{"w":28,"v":2.6,"s":"CD8"}]},
   "encoding":{"x":{"field":"w","type":"quantitative","scale":{"domain":[5,35],"nice":false,"zero":false},"axis":{"values":[5,10,15,20,25,30,35],"title":null}},"y":{"field":"v","type":"quantitative","scale":{"domain":[0,40],"nice":false},"axis":{"values":[0,10,20,30,40],"title":null}}},
   "layer":[
    {"mark":{"type":"line","color":"#000","strokeWidth":1.5},"encoding":{"detail":{"field":"s"}}},
    {"mark":{"type":"circle","size":80,"stroke":"#000","strokeWidth":1.5,"opacity":1},"encoding":{"fill":{"field":"s","type":"nominal","scale":{"domain":["CD4","CD8"],"range":["#f4837d","#5959f2"]},"legend":null}}}
   ]},
  {"width":87,"height":128,
   "data":{"values":[
    {"s":"c1","k":"Naive","v":2,"o":1},{"s":"c1","k":"CM","v":2.7,"o":2},{"s":"c1","k":"EM","v":52.3,"o":3},{"s":"c1","k":"EMRA","v":43,"o":4},
    {"s":"c2","k":"Naive","v":2.6,"o":1},{"s":"c2","k":"CM","v":3.9,"o":2},{"s":"c2","k":"EM","v":62.1,"o":3},{"s":"c2","k":"EMRA","v":31.4,"o":4},
    {"s":"c3","k":"Naive","v":3,"o":1},{"s":"c3","k":"CM","v":4.3,"o":2},{"s":"c3","k":"EM","v":60.7,"o":3},{"s":"c3","k":"EMRA","v":32,"o":4},
    {"s":"c4","k":"Naive","v":2,"o":1},{"s":"c4","k":"CM","v":5.3,"o":2},{"s":"c4","k":"EM","v":62.7,"o":3},{"s":"c4","k":"EMRA","v":30,"o":4},
    {"s":"c5","k":"Naive","v":2.6,"o":1},{"s":"c5","k":"CM","v":1.3,"o":2},{"s":"c5","k":"EM","v":67.3,"o":3},{"s":"c5","k":"EMRA","v":28.8,"o":4},
    {"s":"d1","k":"Naive","v":1.5,"o":1},{"s":"d1","k":"CM","v":10.8,"o":2},{"s":"d1","k":"EM","v":62.3,"o":3},{"s":"d1","k":"EMRA","v":25.4,"o":4},
    {"s":"d2","k":"Naive","v":1.5,"o":1},{"s":"d2","k":"CM","v":14.2,"o":2},{"s":"d2","k":"EM","v":56.3,"o":3},{"s":"d2","k":"EMRA","v":28,"o":4},
    {"s":"d3","k":"Naive","v":1.5,"o":1},{"s":"d3","k":"CM","v":9.8,"o":2},{"s":"d3","k":"EM","v":63.8,"o":3},{"s":"d3","k":"EMRA","v":24.9,"o":4},
    {"s":"d4","k":"Naive","v":1.5,"o":1},{"s":"d4","k":"CM","v":13.7,"o":2},{"s":"d4","k":"EM","v":61.5,"o":3},{"s":"d4","k":"EMRA","v":23.3,"o":4},
    {"s":"d5","k":"Naive","v":1.5,"o":1},{"s":"d5","k":"CM","v":10.3,"o":2},{"s":"d5","k":"EM","v":63.6,"o":3},{"s":"d5","k":"EMRA","v":24.6,"o":4}]},
   "mark":{"type":"bar"},
   "encoding":{
    "x":{"field":"s","type":"nominal","scale":{"domain":["c1","c2","c3","c4","c5","g","d1","d2","d3","d4","d5"],"paddingInner":0.12,"paddingOuter":0.1},"axis":{"values":["c1","c3","c5","g","d1","d3","d5"],"labelExpr":"(datum.value=='c1'||datum.value=='d1')?'8':(datum.value=='c3'||datum.value=='d3')?'16':(datum.value=='c5'||datum.value=='d5')?'24':''","title":null}},
    "y":{"field":"v","type":"quantitative","scale":{"domain":[0,100],"nice":false},"axis":{"values":[0,50,100],"title":null}},
    "color":{"field":"k","type":"nominal","scale":{"domain":["EMRA","EM","CM","Naive"],"range":["#d9d9d9","#a3a3a3","#636363","#000000"]},"legend":null},
    "order":{"field":"o","type":"quantitative"}}}
 ],"columns":2,"bounds":"flush","align":"each","spacing":{"row":7,"column":27},
 "title":{"text":"Weeks after final dose","orient":"bottom","anchor":"middle","offset":10,"dx":22,"fontSize":12,"fontWeight":"normal"},
 "resolve":{"scale":{"color":"independent","fill":"independent"},"legend":{"color":"independent","fill":"independent"}}}
],"spacing":7,"resolve":{"scale":{"color":"independent","fill":"independent"},"legend":{"color":"independent","fill":"independent"}}}
]
}
